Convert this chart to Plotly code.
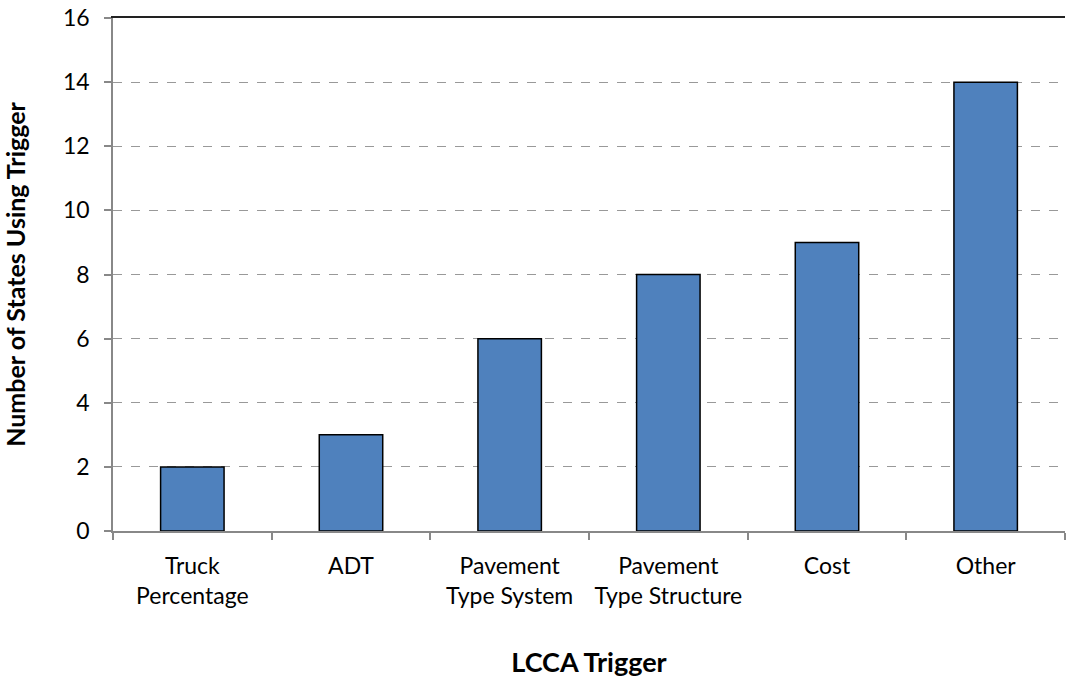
import plotly.graph_objects as go

categories = ["Truck<br>Percentage", "ADT", "Pavement<br>Type System", "Pavement<br>Type Structure", "Cost", "Other"]
values = [2, 3, 6, 8, 9, 14]
y_ticks = [0, 2, 4, 6, 8, 10, 12, 14, 16]

FONT = "Lato, Open Sans, sans-serif"

fig = go.Figure()
fig.add_trace(go.Bar(
    x=categories, y=values,
    marker=dict(color="#4F81BD", line=dict(color="#000000", width=1.5)),
    width=0.4,
))
# invisible trace on overlaid axis to draw the top border line
fig.add_trace(go.Scatter(x=categories, y=[None]*len(categories), xaxis="x2", showlegend=False, hoverinfo="skip"))

fig.update_layout(
    width=1073, height=678,
    margin=dict(l=113, r=8, t=18, b=147),
    paper_bgcolor="white", plot_bgcolor="white",
    showlegend=False,
    font=dict(family=FONT, size=23, color="#000000"),
    xaxis=dict(
        type="category", automargin=False, tickangle=0,
        showline=True, linecolor="#888888", linewidth=1.5,
        ticks="outside", tickson="boundaries", ticklen=7, tickcolor="#888888", tickwidth=1.5,
        showgrid=False,
        tickfont=dict(family=FONT, size=23),
        ticklabelstandoff=14,
        title=dict(text="<b>LCCA Trigger</b>", font=dict(family=FONT, size=27), standoff=50),
    ),
    xaxis2=dict(
        overlaying="x", side="top", type="category",
        showline=True, linecolor="#222222", linewidth=1.5,
        showticklabels=False, ticks="", showgrid=False, anchor="y",
    ),
    yaxis=dict(
        range=[0, 16], tickvals=y_ticks, automargin=False,
        showline=True, linecolor="#888888", linewidth=1.5,
        ticks="outside", ticklen=7, tickcolor="#888888", tickwidth=1.5,
        showgrid=True, gridcolor="#999999", griddash="dash", gridwidth=1,
        zeroline=False,
        tickfont=dict(family=FONT, size=23),
        ticklabelstandoff=10,
        title=dict(text="<b>Number of States Using Trigger</b>", font=dict(family=FONT, size=25), standoff=30),
    ),
)

fig.write_html("out.html")
